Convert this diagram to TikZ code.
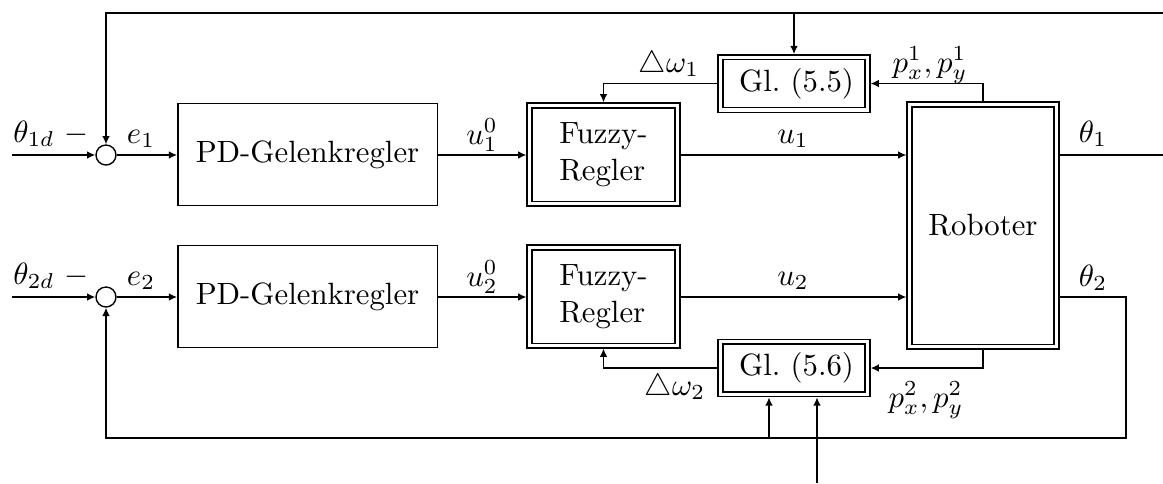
\documentclass[tikz,border=0pt]{standalone}
\usetikzlibrary{arrows.meta}
\begin{document}
\begin{tikzpicture}[x=0.325pt,y=-0.325pt,
  line width=0.45pt,
  arr/.style={-{Latex[length=2.7pt,width=2.5pt]}},
  single/.style={draw,minimum width=84.3pt,minimum height=33pt,inner sep=0pt},
  dbl/.style={draw,double,double distance=1.1pt,outer sep=1pt,inner sep=0pt},
  sumpt/.style={draw,circle,minimum size=6.5pt,inner sep=0pt},
  lab/.style={anchor=base,inner sep=0pt}]
\useasboundingbox (0,0) rectangle (1163,483);
% blocks
\node[sumpt] (c1) at (106,155) {};
\node[sumpt] (c2) at (106,297) {};
\node[single] (pd1) at (307.5,154.5) {PD-Gelenkregler};
\node[single] (pd2) at (307.5,296.5) {PD-Gelenkregler};
\node[dbl,minimum width=48.1pt,minimum height=31.9pt,align=left] (fz1) at (603.5,154.5) {Fuzzy-\\Regler};
\node[dbl,minimum width=48.1pt,minimum height=31.9pt,align=left] (fz2) at (603.5,296.5) {Fuzzy-\\Regler};
\node[dbl,minimum width=47.8pt,minimum height=17.1pt] (gl1) at (794,83.5) {\,Gl.~(5.5)};
\node[dbl,minimum width=47.8pt,minimum height=17.1pt] (gl2) at (794,368) {\,Gl.~(5.6)};
\node[dbl,minimum width=47.8pt,minimum height=78.7pt] (rob) at (983,225.5) {Roboter};
% free ends
\coordinate (in1) at (12,155);
\coordinate (in2) at (12,297);
\coordinate (tr) at (1163,13);
\coordinate (out1) at (1163,155);
\coordinate (br) at (1126,438);
\coordinate (b1) at (769,438);
\coordinate (b2) at (817,483);
% connectors
\draw[arr] (in1) -- (c1.west);
\draw[arr] (in2) -- (c2.west);
\draw[arr] (c1.east) -- (c1.east -| pd1.west);
\draw[arr] (c2.east) -- (c2.east -| pd2.west);
\draw[arr] (c1.east -| pd1.east) -- (c1.east -| fz1.west);
\draw[arr] (c2.east -| pd2.east) -- (c2.east -| fz2.west);
\draw[arr] (c1.east -| fz1.east) -- (c1.east -| rob.west);
\draw[arr] (c2.east -| fz2.east) -- (c2.east -| rob.west);
\draw (c1.east -| rob.east) -- (out1);
\draw[arr] (tr) -- (c1 |- tr) -- (c1.north);
\draw[arr] (gl1.north |- tr) -- (gl1.north);
\draw[arr] (gl1.west) -| (fz1.north);
\draw[arr] (rob.north) |- (gl1.east);
\draw[arr] (gl2.west) -| (fz2.south);
\draw[arr] (rob.south) |- (gl2.east);
\draw[arr] (c2.east -| rob.east) -- (br |- c2.east) -- (br) -- (br -| c2) -- (c2.south);
\draw[arr] (b1) -- (b1 |- gl2.south);
\draw[arr] (b2) -- (b2 |- gl2.south);
% labels
\node[lab] (l1) at (51,142) {$\theta_{1d}$ $-$};
\node[lab] (l2) at (51,284) {$\theta_{2d}$ $-$};
\node[lab] (le1) at (141,143) {$e_1$};
\node[lab] (le2) at (141,285) {$e_2$};
\node[lab] (lu10) at (482,144) {$u_1^0$};
\node[lab] (lu20) at (482,286) {$u_2^0$};
\node[lab] (lu1) at (793,143) {$u_1$};
\node[lab] (lu2) at (793,285) {$u_2$};
\node[lab] (lw1) at (669,72) {$\triangle\omega_1$};
\node[lab] (lw2) at (675,395) {$\triangle\omega_2$};
\node[lab] (lp1) at (930,72) {$p_x^1,p_y^1$};
\node[lab] (lp2) at (926,407) {$p_x^2,p_y^2$};
\node[lab] (lt1) at (1093,142) {$\theta_1$};
\node[lab] (lt2) at (1093,286) {$\theta_2$};
\end{tikzpicture}
\end{document}
